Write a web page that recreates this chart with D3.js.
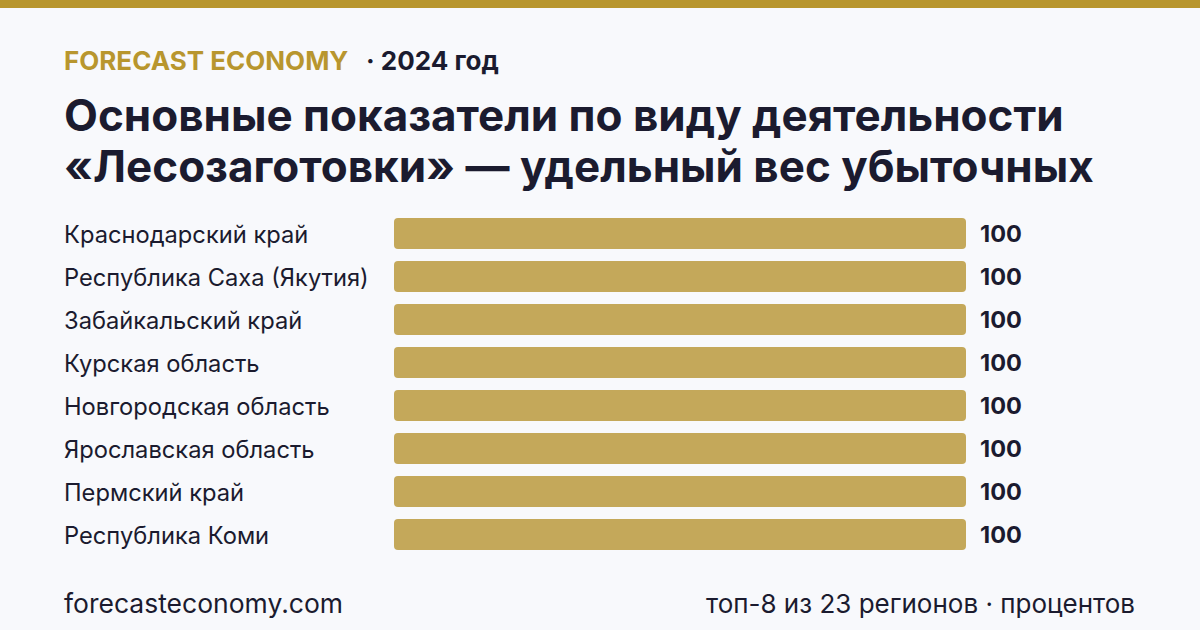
<!DOCTYPE html>
<html>
<head>
<meta charset="utf-8">
<script src="https://cdn.jsdelivr.net/npm/d3@7"></script>
<style>
  body { margin: 0; background: #f8f9fc; }
  svg { display: block; font-family: Inter, 'Noto Sans', sans-serif; }
</style>
</head>
<body>
<div id="wrapper"></div>
<script>
const regions = [
  'Краснодарский край',
  'Республика Саха (Якутия)',
  'Забайкальский край',
  'Курская область',
  'Новгородская область',
  'Ярославская область',
  'Пермский край',
  'Республика Коми'
]
const values = [100, 100, 100, 100, 100, 100, 100, 100]
const titleLines = [
  'Основные показатели по виду деятельности',
  '«Лесозаготовки» — удельный вес убыточных'
]

function drawBars() {
  const dimensions = { width: 1200, height: 630 }

  const wrapper = d3.select('#wrapper')
    .append('svg')
      .attr('width', dimensions.width)
      .attr('height', dimensions.height)

  wrapper.append('rect')
    .attr('width', dimensions.width)
    .attr('height', dimensions.height)
    .attr('fill', '#f8f9fc')

  wrapper.append('rect')
    .attr('width', dimensions.width)
    .attr('height', 8)
    .attr('fill', '#b8962e')

  // header
  const kicker = wrapper.append('text')
    .attr('x', 64)
    .attr('y', 70)
    .style('font-size', '26px')
    .style('font-weight', 700)
  kicker.append('tspan')
    .attr('fill', '#b8962e')
    .text('FORECAST ECONOMY')
  kicker.append('tspan')
    .attr('x', 366)
    .attr('fill', '#1b1b2f')
    .text('· 2024 год')

  wrapper.selectAll('.title')
    .data(titleLines)
    .join('text')
      .attr('class', 'title')
      .attr('x', 64)
      .attr('y', (d, i) => 131 + i * 51)
      .attr('fill', '#1b1b2f')
      .style('font-size', '44px')
      .style('font-weight', 700)
      .text(d => d)

  // scales
  const yScale = d3.scaleBand()
    .domain(regions)
    .range([212, 556])
    .paddingInner(0.28)
    .paddingOuter(0.14)

  const xScale = d3.scaleLinear()
    .domain([0, 100])
    .range([394, 966])

  const rows = wrapper.selectAll('.row')
    .data(regions)
    .join('g')
      .attr('class', 'row')

  rows.append('rect')
    .attr('x', xScale(0))
    .attr('y', d => yScale(d))
    .attr('width', (d, i) => xScale(values[i]) - xScale(0))
    .attr('height', yScale.bandwidth())
    .attr('rx', 4)
    .attr('fill', '#c4a85a')

  rows.append('text')
    .attr('x', 64)
    .attr('y', d => yScale(d) + yScale.bandwidth() / 2)
    .attr('dy', '0.38em')
    .attr('fill', '#1b1b2f')
    .style('font-size', '23.7px')
    .text(d => d)

  rows.append('text')
    .attr('x', (d, i) => xScale(values[i]) + 14)
    .attr('y', d => yScale(d) + yScale.bandwidth() / 2)
    .attr('dy', '0.38em')
    .attr('fill', '#1b1b2f')
    .style('font-size', '23.5px')
    .style('font-weight', 700)
    .text((d, i) => values[i])

  // footer
  wrapper.append('text')
    .attr('x', 64)
    .attr('y', 613)
    .attr('fill', '#1b1b2f')
    .style('font-size', '26.5px')
    .text('forecasteconomy.com')

  wrapper.append('text')
    .attr('x', 1135)
    .attr('y', 613)
    .attr('text-anchor', 'end')
    .attr('fill', '#1b1b2f')
    .style('font-size', '26px')
    .text('топ-8 из 23 регионов · процентов')
}
drawBars()
</script>
</body>
</html>
